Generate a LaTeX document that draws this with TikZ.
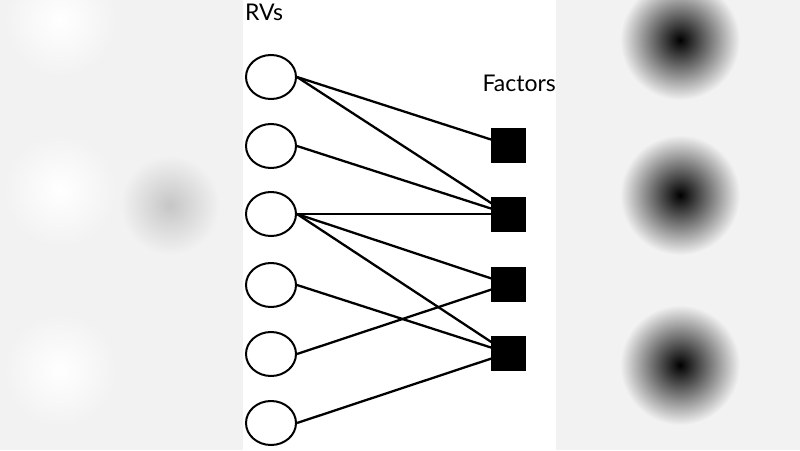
\documentclass[tikz,border=0pt]{standalone}
\usepackage{fontspec}
\setmainfont{Lato}
\usetikzlibrary{shapes.geometric}
\begin{document}
\begin{tikzpicture}[x=1pt,y=-1pt,
  rv/.style={draw,line width=2pt,ellipse,minimum width=50pt,minimum height=44pt,inner sep=0pt},
  fac/.style={fill=black,minimum size=35pt,inner sep=0pt},
  edge/.style={line width=2.3pt},
  lbl/.style={font=\fontsize{23}{26}\selectfont,inner sep=0pt}]
\useasboundingbox (0,0) rectangle (800,450);
\fill[gray!10] (0,0) rectangle (800,450);
\foreach \y in {20,190,370}{\shade[inner color=white,outer color=gray!10] (60,\y) circle (55);}
\shade[inner color=gray!45,outer color=gray!10] (170,205) circle (50);
\foreach \y in {40,195,365}{\shade[inner color=black,outer color=gray!10] (680,\y) circle (60);}
\fill[white] (243,0) rectangle (556,450);
\node[lbl,anchor=north west] (rvs) at (245,4) {RVs};
\node[lbl,anchor=north east] (fl) at (556,75) {Factors};
\foreach \i/\y in {1/77,2/146,3/214,4/285,5/354,6/423}{\node[rv] (c\i) at (271,\y) {};}
\foreach \i/\y in {1/145,2/214,3/284,4/353}{\node[fac] (f\i) at (508,\y) {};}
\foreach \a/\b in {1/1,1/2,2/2,3/2,3/3,3/4,4/4,5/3,6/4}{\draw[edge] (c\a.east) -- (f\b.center);}
\foreach \i in {1,...,4}{\node[fac] at (f\i) {};}
\end{tikzpicture}
\end{document}
